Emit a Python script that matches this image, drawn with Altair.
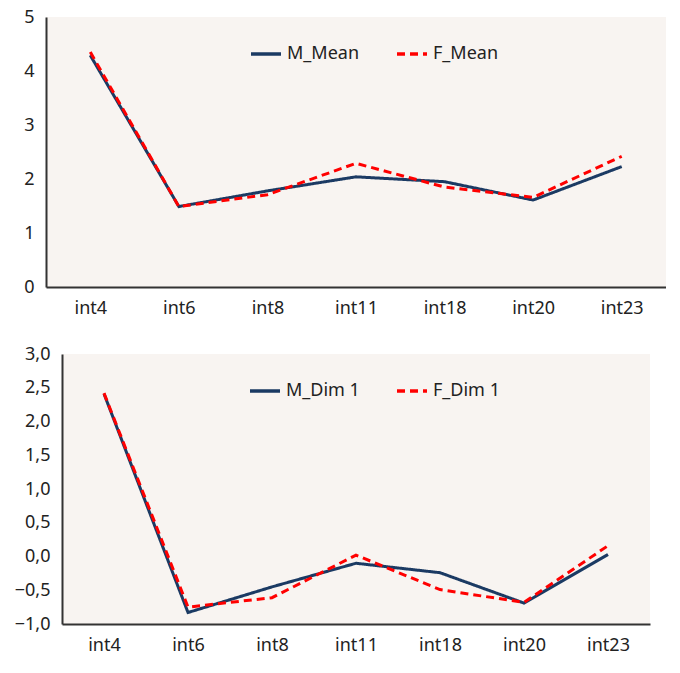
import altair as alt
import pandas as pd

cats = ["int4", "int6", "int8", "int11", "int18", "int20", "int23"]
m_mean = [4.29, 1.49, 1.78, 2.04, 1.95, 1.61, 2.23]
f_mean = [4.35, 1.49, 1.71, 2.29, 1.85, 1.66, 2.42]
m_dim1 = [2.41, -0.83, -0.45, -0.10, -0.24, -0.69, 0.03]
f_dim1 = [2.42, -0.75, -0.61, 0.02, -0.49, -0.68, 0.16]

top_names = ["M_Mean", "F_Mean"]
bot_names = ["M_Dim 1", "F_Dim 1"]
top_ticks = [0, 1, 2, 3, 4, 5]
bot_ticks = [-1.0, -0.5, 0.0, 0.5, 1.0, 1.5, 2.0, 2.5, 3.0]

NAVY = "#1b3a63"
RED = "#ff0000"
FONT = "Noto Sans"


def panel(mvals, fvals, names, domain, ticks, width, label_expr, legend_x):
    rows = []
    for c, v in zip(cats, mvals):
        rows.append({"cat": c, "val": v, "series": names[0]})
    for c, v in zip(cats, fvals):
        rows.append({"cat": c, "val": v, "series": names[1]})
    df = pd.DataFrame(rows)
    leg = alt.Legend(
        title=None,
        orient="none",
        legendX=legend_x,
        legendY=20,
        direction="horizontal",
        symbolType="stroke",
        symbolSize=900,
        symbolStrokeWidth=3.5,
        labelFontSize=18,
        labelFont=FONT,
        labelColor="#222222",
        columnPadding=30,
        fillColor=None,
    )
    return alt.Chart(df).mark_line(strokeWidth=3).encode(
        x=alt.X("cat:N", sort=cats, title=None,
                scale=alt.Scale(type="point", padding=0.5),
                axis=alt.Axis(labelAngle=0, labelPadding=12)),
        y=alt.Y("val:Q", title=None,
                scale=alt.Scale(domain=domain, nice=False, zero=False),
                axis=alt.Axis(values=ticks, labelExpr=label_expr, labelPadding=12)),
        color=alt.Color("series:N", scale=alt.Scale(domain=names, range=[NAVY, RED]), legend=leg),
        strokeDash=alt.StrokeDash("series:N", scale=alt.Scale(domain=names, range=[[1, 0], [8, 5]]), legend=leg),
    ).properties(width=width, height=270)


top = panel(m_mean, f_mean, top_names, [0, 5], top_ticks, 620,
            "format(datum.value, 'd')", 203)
bottom = panel(m_dim1, f_dim1, bot_names, [-1, 3], bot_ticks, 588,
               "replace(format(datum.value, '.1f'), '.', ',')", 186)

chart = alt.concat(top, bottom, columns=1, align="each", center=True, bounds="full", spacing=28).resolve_scale(
    color="independent", strokeDash="independent", x="independent", y="independent"
).resolve_legend(
    color="independent", strokeDash="independent"
).configure_view(
    fill="#f8f4f1", stroke=None
).configure_axis(
    domainColor="#333333",
    domainWidth=2,
    ticks=False,
    grid=False,
    labelFont=FONT,
    labelFontSize=18,
    labelColor="#222222",
).properties(background="white", padding={"left": 6, "top": 0, "right": 0, "bottom": 0})

chart.save("out.html", embed_options={"renderer": "svg", "actions": False})
